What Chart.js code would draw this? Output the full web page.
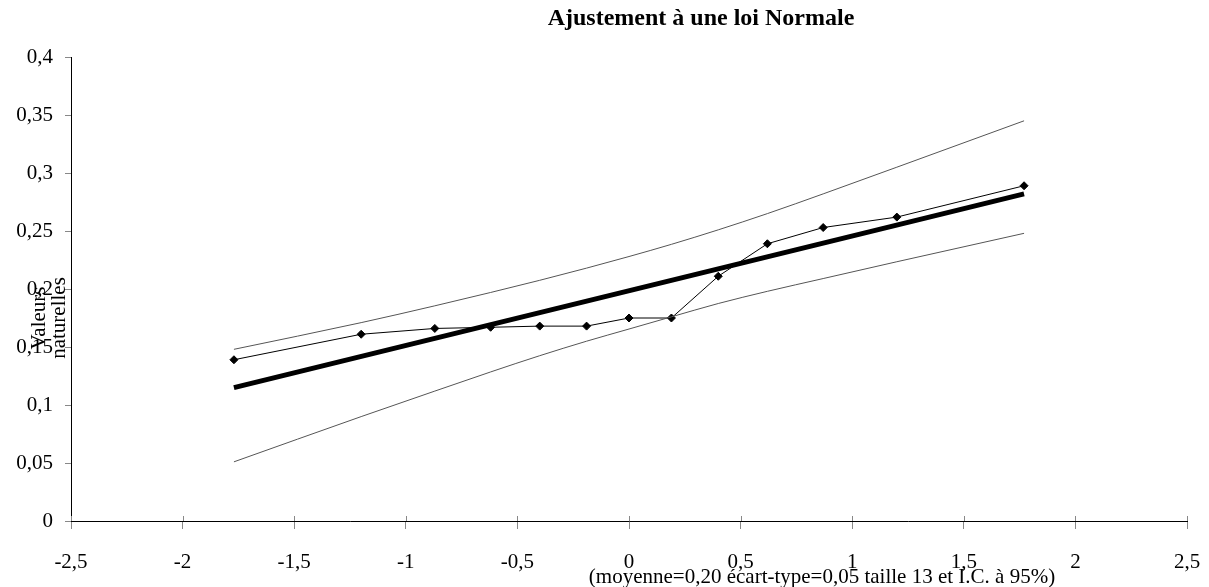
<!DOCTYPE html>
<html>
<head>
<meta charset="utf-8">
<script src="https://cdn.jsdelivr.net/npm/chart.js@4.4.0/dist/chart.umd.min.js"></script>
<style>
  html, body { margin: 0; padding: 0; background: #fff; }
  #wrap { width: 1209px; height: 587px; }
</style>
</head>
<body>
<div id="wrap"><canvas id="myChart" width="1209" height="587"></canvas></div>
<script>
// quantiles of the normal law (x) for the 13 observations
let quantiles = [-1.77, -1.20, -0.87, -0.62, -0.40, -0.19, 0, 0.19, 0.40, 0.62, 0.87, 1.20, 1.77];
let observed = [0.139, 0.161, 0.166, 0.167, 0.168, 0.168, 0.175, 0.175, 0.211, 0.239, 0.253, 0.262, 0.289];
let upperBand = [0.148, 0.171, 0.1855, 0.197, 0.2075, 0.218, 0.228, 0.2385, 0.251, 0.265, 0.282, 0.305, 0.345];
let lowerBand = [0.051, 0.090, 0.112, 0.1285, 0.1425, 0.155, 0.1655, 0.176, 0.1875, 0.198, 0.209, 0.2235, 0.248];
let fitX = [-1.77, 1.77];
let fitY = [0.115, 0.282];

let xTicks = [-2.5, -2, -1.5, -1, -0.5, 0, 0.5, 1, 1.5, 2, 2.5];
let yTicks = [0, 0.05, 0.1, 0.15, 0.2, 0.25, 0.3, 0.35, 0.4];

function pts(xs, ys) {
    return xs.map((x, i) => ({x: x, y: ys[i]}));
}
function frNum(v) {
    return String(Number(v.toFixed(2))).replace('.', ',');
}

const serif = "'Liberation Serif', 'Times New Roman', serif";

let textPlugin = {
    id: 'texts',
    afterDraw(chart) {
        let ctx = chart.ctx;
        let xs = chart.scales.x;
        let bottom = chart.chartArea.bottom;
        ctx.save();
        // upper half of the x ticks (they cross the axis)
        ctx.strokeStyle = '#888';
        ctx.lineWidth = 1;
        ctx.beginPath();
        xTicks.forEach(v => {
            let px = Math.round(xs.getPixelForValue(v)) + 0.5;
            ctx.moveTo(px, bottom - 5);
            ctx.lineTo(px, bottom);
        });
        ctx.stroke();

        ctx.fillStyle = '#000';
        ctx.textAlign = 'center';
        ctx.textBaseline = 'middle';
        ctx.font = 'bold 24px ' + serif;
        ctx.fillText('Ajustement à une loi Normale', 701, 19);
        ctx.font = '21px ' + serif;
        ctx.fillText('(moyenne=0,20 écart-type=0,05 taille 13 et I.C. à 95%)', 822, 577);
        ctx.translate(0, 318);
        ctx.rotate(-Math.PI / 2);
        ctx.fillText('Valeurs', 0, 39);
        ctx.fillText('naturelles', 0, 59);
        ctx.restore();
    }
};

let myChart = document.getElementById('myChart').getContext('2d');

let chart = new Chart(myChart, {
    type: 'scatter',
    data: {
        datasets: [
            {
                data: pts(quantiles, upperBand),
                showLine: true,
                borderColor: '#555',
                borderWidth: 1,
                pointRadius: 0,
                cubicInterpolationMode: 'monotone'
            },
            {
                data: pts(quantiles, lowerBand),
                showLine: true,
                borderColor: '#555',
                borderWidth: 1,
                pointRadius: 0,
                cubicInterpolationMode: 'monotone'
            },
            {
                data: pts(fitX, fitY),
                showLine: true,
                borderColor: '#000',
                borderWidth: 5,
                pointRadius: 0
            },
            {
                data: pts(quantiles, observed),
                showLine: true,
                borderColor: '#000',
                borderWidth: 1,
                pointStyle: 'rectRot',
                pointRadius: 4,
                pointBackgroundColor: '#000',
                pointBorderColor: '#000'
            }
        ]
    },
    options: {
        responsive: false,
        animation: false,
        layout: { padding: { top: 57, right: 22, left: 0, bottom: 0 } },
        plugins: {
            legend: { display: false },
            title: { display: false },
            tooltip: { enabled: false }
        },
        scales: {
            x: {
                type: 'linear',
                min: -2.5,
                max: 2.5,
                afterBuildTicks: (s) => { s.ticks = xTicks.map(v => ({value: v})); },
                afterFit: (s) => {
                    s.height = 66;
                    s.paddingLeft = 0;
                    s.paddingRight = 0;
                },
                border: { display: true, color: '#000', width: 1 },
                grid: { drawOnChartArea: false, drawTicks: true, tickLength: 8, color: '#888' },
                ticks: {
                    color: '#000',
                    padding: 21,
                    maxRotation: 0,
                    font: { family: serif, size: 21 },
                    callback: (v) => frNum(v)
                }
            },
            y: {
                type: 'linear',
                min: 0,
                max: 0.4,
                afterBuildTicks: (s) => { s.ticks = yTicks.map(v => ({value: v})); },
                afterFit: (s) => {
                    s.width = 71;
                    s.paddingTop = 0;
                    s.paddingBottom = 0;
                },
                border: { display: true, color: '#000', width: 1 },
                grid: { drawOnChartArea: false, drawTicks: true, tickLength: 6, color: '#888' },
                ticks: {
                    color: '#000',
                    padding: 12,
                    font: { family: serif, size: 21 },
                    callback: (v) => frNum(v)
                }
            }
        }
    },
    plugins: [textPlugin]
});
</script>
</body>
</html>
